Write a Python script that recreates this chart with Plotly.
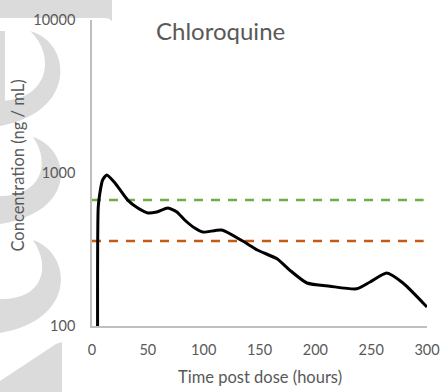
import plotly.graph_objects as go

# ---- data ----
time_h = [5, 5.6, 7.2, 9.5, 13.2, 20.6, 32, 41, 50, 58, 68, 76, 83, 92, 99.4, 116, 135,
          148, 166, 177, 192.5, 213, 237, 249, 264, 278.5, 300]
conc = [100, 600, 752, 900, 970, 860, 665, 590, 548, 556, 590, 556, 493, 437, 411, 424, 359,
        314, 274, 232, 191, 182, 175, 194, 222, 191, 133]
threshold_green = 665
threshold_orange = 360
threshold_x = [0, 297]
x_ticks = [0, 50, 100, 150, 200, 250, 300]
y_ticks = [100, 1000, 10000]
title_text = "Chloroquine"
x_title = "Time post dose (hours)"
y_title = "Concentration (ng / mL)"

W, H = 443, 392
L, R, T, B = 92, 16, 20, 66
PW, PH = W - L - R, H - T - B


def px(x, y):
    return (x - L) / PW, (H - B - y) / PH


def path(cmds):
    out = []
    for c in cmds:
        if isinstance(c, str):
            out.append(c)
        else:
            xx, yy = px(*c)
            out.append(f"{xx:.4f},{yy:.4f}")
    return " ".join(out)


FONT = "Lato"
GREY = "#595959"

fig = go.Figure()
fig.add_trace(go.Scatter(x=threshold_x, y=[threshold_green] * 2, mode="lines",
                         line=dict(color="#70AD47", width=2.5, dash="9px,8px"),
                         hoverinfo="skip", showlegend=False))
fig.add_trace(go.Scatter(x=threshold_x, y=[threshold_orange] * 2, mode="lines",
                         line=dict(color="#C55A11", width=2.5, dash="9px,8px"),
                         hoverinfo="skip", showlegend=False))
fig.add_trace(go.Scatter(x=time_h, y=conc, mode="lines",
                         line=dict(color="black", width=3, shape="spline", smoothing=0.6),
                         showlegend=False))

wm = "#DBDBDB"
shapes = [
    # top band
    dict(path=path(["M", (0, 0), "L", (112, 0), "L", (112, 22), "Q", (111, 18), (103, 18),
                    "L", (0, 18), "Z"])),
    # crescent 1
    dict(path=path(["M", (30, 31), "C", (72, 42), (78, 112), (0, 126), "L", (0, 101),
                    "C", (50, 100), (56, 55), (30, 31), "Z"])),
    dict(path=path(["M", (0, 31), "L", (5, 31), "L", (5, 101), "L", (0, 101), "Z"])),
    # crescent 2
    dict(path=path(["M", (33, 137), "C", (72, 150), (78, 212), (0, 224), "L", (0, 196),
                    "C", (40, 196), (52, 165), (33, 137), "Z"])),
    # crescent 3
    dict(path=path(["M", (33, 240), "C", (72, 253), (78, 320), (0, 333), "L", (0, 299),
                    "C", (42, 300), (52, 268), (33, 240), "Z"])),
    # bottom wedge
    dict(path=path(["M", (56, 344), "L", (62, 342), "L", (62, 392), "L", (0, 392),
                    "L", (0, 381), "Z"])),
]
for s in shapes:
    s.update(type="path", xref="paper", yref="paper", fillcolor=wm,
             line=dict(width=0), layer="below")

fig.update_layout(
    template="none",
    width=W, height=H, autosize=False,
    margin=dict(l=L, r=R, t=T, b=B, autoexpand=False),
    paper_bgcolor="white", plot_bgcolor="white",
    font=dict(family=FONT, color=GREY, size=14.5),
    shapes=shapes,
    xaxis=dict(range=[0, 300], tickvals=x_ticks, showgrid=False, zeroline=False,
               automargin=False,
               showline=True, linecolor="#BFBFBF", linewidth=1.5, ticks="",
               ticklabelstandoff=10, tickfont=dict(size=14.5, color=GREY)),
    yaxis=dict(type="log", range=[2, 4], tickvals=y_ticks, ticktext=[str(v) for v in y_ticks],
               automargin=False,
               showgrid=False, zeroline=False, showline=True, linecolor="#BFBFBF",
               linewidth=1.5, ticks="", ticklabelstandoff=12,
               tickfont=dict(size=14.5, color=GREY)),
    annotations=[
        dict(text=title_text, xref="paper", yref="paper", x=px(220, 0)[0], y=px(0, 31)[1],
             showarrow=False, font=dict(size=24, color=GREY), xanchor="center", yanchor="middle"),
        dict(text=x_title, xref="paper", yref="paper", x=px(260, 0)[0], y=px(0, 377)[1],
             showarrow=False, font=dict(size=16.5, color=GREY), xanchor="center", yanchor="middle"),
        dict(text=y_title, xref="paper", yref="paper", x=px(17.5, 0)[0], y=px(0, 166)[1],
             showarrow=False, textangle=-90, font=dict(size=16.5, color=GREY),
             xanchor="center", yanchor="middle"),
    ],
)

fig.write_html("out.html")
